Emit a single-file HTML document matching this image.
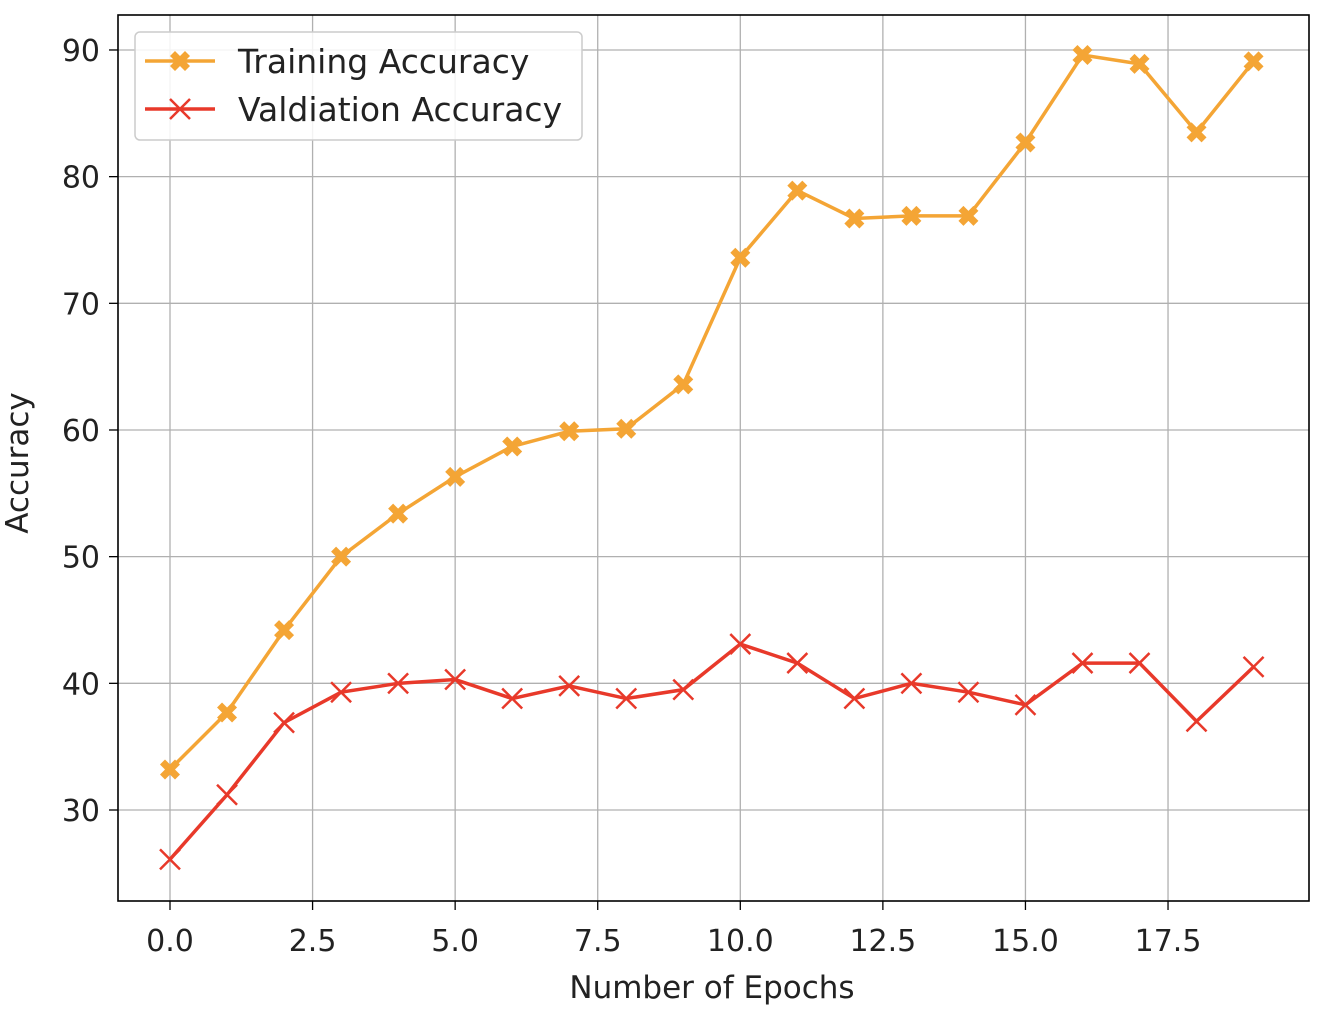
<!DOCTYPE html>
<html><head><meta charset="utf-8"><style>
html,body{margin:0;padding:0;background:#fff;}
svg{display:block;font-family:"DejaVu Sans","Liberation Sans",sans-serif;}
</style></head><body>
<svg id="chart" width="1324" height="1028" viewBox="0 0 1324 1028">
<g id="grid"></g>
<g id="ticks"></g>
<g id="series"></g>
<rect x="118" y="15" width="1191" height="886" fill="none" stroke="#000" stroke-width="1.6"/>
<text x="712" y="998" font-size="31" text-anchor="middle" fill="#222">Number of Epochs</text>
<text x="0" y="0" font-size="31" text-anchor="middle" fill="#222" transform="translate(28,463) rotate(-90)">Accuracy</text>
<g>
<rect x="135" y="32" width="447" height="108" rx="5" fill="#fff" fill-opacity="0.85" stroke="#ccc" stroke-width="1.5"/>
<g>
<line x1="145" y1="61" x2="215" y2="61" stroke="#f4a535" stroke-width="3.5"/>
<path id="lgx" d="" fill="#f4a535"/>
<text x="238" y="73" font-size="33" fill="#222">Training Accuracy</text>
</g>
<g>
<line x1="145" y1="109" x2="215" y2="109" stroke="#e8392a" stroke-width="3.5"/>
<path d="M170,99 L190,119 M170,119 L190,99" stroke="#e8392a" stroke-width="2.5"/>
<text x="238" y="121" font-size="33" fill="#222">Valdiation Accuracy</text>
</g>
</g>
</svg>
<script>
const epochs=[0,1,2,3,4,5,6,7,8,9,10,11,12,13,14,15,16,17,18,19];
const trainAcc=[33.2,37.7,44.2,50.0,53.4,56.3,58.7,59.9,60.1,63.6,73.6,78.9,76.7,76.9,76.9,82.7,89.6,88.9,83.5,89.1];
const valAcc=[26.1,31.2,36.9,39.3,40.0,40.3,38.8,39.8,38.8,39.5,43.1,41.6,38.8,40.0,39.3,38.3,41.6,41.6,37.0,41.3];
const xTicks=[0,2.5,5,7.5,10,12.5,15,17.5];
const xTickLabels=["0.0","2.5","5.0","7.5","10.0","12.5","15.0","17.5"];
const yTicks=[30,40,50,60,70,80,90];

const NS="http://www.w3.org/2000/svg";
const X=v=>170+v*57.03;
const Y=v=>810-(v-30)*12.667;
function mk(tag,attrs,parent){const e=document.createElementNS(NS,tag);for(const k in attrs)e.setAttribute(k,attrs[k]);parent.appendChild(e);return e;}
const grid=document.getElementById('grid'),ticks=document.getElementById('ticks'),series=document.getElementById('series');
xTicks.forEach((t,i)=>{
  const g=mk('line',{x1:X(t),x2:X(t),y1:15,y2:901,stroke:'#b0b0b0','stroke-width':1.3},grid);
  
  
  mk('line',{x1:X(t),x2:X(t),y1:901,y2:910,stroke:'#000','stroke-width':1.3},ticks);
  const l=mk('text',{x:X(t),y:951,'font-size':30,'text-anchor':'middle',fill:'#222'},ticks);
  l.textContent=xTickLabels[i];
  
  
});
yTicks.forEach(t=>{
  const g=mk('line',{x1:118,x2:1309,y1:Y(t),y2:Y(t),stroke:'#b0b0b0','stroke-width':1.3},grid);
  
  
  mk('line',{x1:109,x2:118,y1:Y(t),y2:Y(t),stroke:'#000','stroke-width':1.3},ticks);
  const l=mk('text',{x:100,y:Y(t)+11,'font-size':30,'text-anchor':'end',fill:'#222'},ticks);
  l.textContent=String(t);
  
  
});
function filledX(cx,cy,s){const a=s*0.5,b=s;return `M${cx-b},${cy-b+a}L${cx-b+a},${cy-b}L${cx},${cy-a}L${cx+b-a},${cy-b}L${cx+b},${cy-b+a}L${cx+a},${cy}L${cx+b},${cy+b-a}L${cx+b-a},${cy+b}L${cx},${cy+a}L${cx-b+a},${cy+b}L${cx-b},${cy+b-a}L${cx-a},${cy}Z`;}
document.getElementById('lgx').setAttribute('d',filledX(180,61,10));
const tl=mk('polyline',{points:epochs.map((e,i)=>X(e)+','+Y(trainAcc[i])).join(' '),fill:'none',stroke:'#f4a535','stroke-width':3.5},series);


const vl=mk('polyline',{points:epochs.map((e,i)=>X(e)+','+Y(valAcc[i])).join(' '),fill:'none',stroke:'#e8392a','stroke-width':3.5},series);


epochs.forEach((e,i)=>{
  const m=mk('path',{d:filledX(X(e),Y(trainAcc[i]),10),fill:'#f4a535'},series);
  
  
  const cx=X(e),cy=Y(valAcc[i]);
  const v=mk('path',{d:`M${cx-10},${cy-10}L${cx+10},${cy+10}M${cx-10},${cy+10}L${cx+10},${cy-10}`,stroke:'#e8392a','stroke-width':2.5,fill:'none'},series);
  
  
});
</script>
</body></html>
